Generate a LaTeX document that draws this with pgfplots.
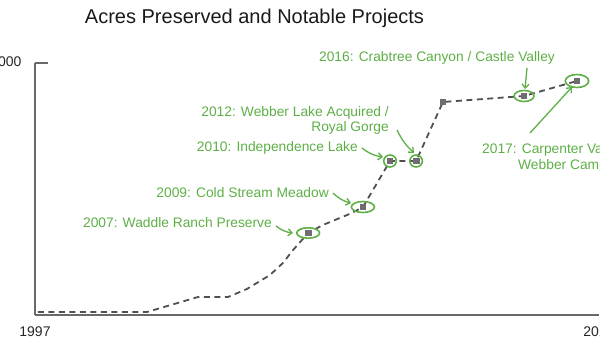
\documentclass[border=0pt]{standalone}
\usepackage{fontspec}
\setmainfont{Liberation Sans}
\usepackage{pgfplots}
\pgfplotsset{compat=1.18}
\usetikzlibrary{arrows.meta}
\definecolor{ann}{RGB}{93,175,70}
\definecolor{axg}{RGB}{105,105,105}
\definecolor{lg}{RGB}{80,80,80}
\definecolor{mk}{RGB}{110,110,110}

\pgfplotstableread{
x y
1997.11 476
2001.17 476
2003.07 2857
2004.19 2857
2004.89 4127
2005.75 6349
2006.23 8254
2006.61 10317
2007.17 13016
2007.72 14286
2008.80 16190
2009.21 17143
2010.22 24444
2011.19 24444
2012.19 33810
2015.21 34762
2017.18 37143
}\acres

\pgfplotstableread{
x y
2007.17 13016
2009.21 17143
2010.22 24444
2011.19 24444
2012.19 33810
2015.21 34762
2017.18 37143
}\marks

\begin{document}
\begin{tikzpicture}
\path[use as bounding box] (0pt,0pt) rectangle (600pt,352pt);
\clip (0pt,0pt) rectangle (600pt,352pt);
\begin{axis}[
  at={(35pt,37pt)}, anchor=south west,
  scale only axis, width=564pt, height=252pt,
  xmin=1997, xmax=2018, ymin=0, ymax=40000,
  axis x line*=bottom, axis y line*=left,
  axis line style={axg, line width=1.2pt, -},
  xtick={1997,2018}, xticklabels={1997,2018},
  ytick={40000},
  xtick style={draw=none},
  ytick style={axg, line width=1.2pt},
  tick align=inside, major tick length=13pt,
  ticklabel style={font=\fontsize{14}{14}\selectfont, text=black!85},
  yticklabel style={xshift=-10pt},
  xticklabel style={yshift=-8pt},
  /pgf/number format/assume math mode=true,
  /pgf/number format/1000 sep={,},
  scaled y ticks=false,
  clip=false,
]
\addplot[lg, line width=1.8pt, dash pattern=on 6pt off 4.5pt] table[x=x,y=y] {\acres};
\addplot[only marks, mark=square*, mark size=2.6pt, mark options={fill=mk, draw=mk}] table[x=x,y=y] {\marks};
\addplot[only marks, mark=o, mark size=5.2pt, mark options={xscale=2.2, draw=ann, line width=1.6pt}] coordinates {(2007.17,13016)};
\addplot[only marks, mark=o, mark size=5.5pt, mark options={xscale=2.1, draw=ann, line width=1.6pt}] coordinates {(2009.21,17143)};
\addplot[only marks, mark=o, mark size=6pt, mark options={xscale=1.05, draw=ann, line width=1.6pt}] coordinates {(2010.22,24444) (2011.19,24444)};
\addplot[only marks, mark=o, mark size=5.5pt, mark options={xscale=1.8, draw=ann, line width=1.6pt}] coordinates {(2015.21,34762)};
\addplot[only marks, mark=o, mark size=6.5pt, mark options={xscale=1.8, draw=ann, line width=1.6pt}] coordinates {(2017.18,37143)};
\end{axis}

\node[font=\fontsize{20}{22}\selectfont, text=black!90] at (254.5pt,334pt) {Acres Preserved and Notable Projects};

\tikzset{annt/.style={font=\fontsize{13.8}{15}\selectfont, text=ann, inner sep=0pt},
         arr/.style={draw=ann, line width=1.3pt, -{Straight Barb[length=4pt,width=7pt]}}}
\node[annt, anchor=east] at (272pt,129pt) {2007: Waddle Ranch Preserve};
\draw[arr] (276pt,126pt) to[bend right=15] (293pt,119pt);

\node[annt, anchor=east] at (329pt,159pt) {2009: Cold Stream Meadow};
\draw[arr] (333pt,159pt) to[bend right=15] (351pt,149pt);

\node[annt, anchor=east] at (358pt,204pt) {2010: Independence Lake};
\draw[arr] (362pt,204pt) to[bend right=15] (383pt,195pt);

\node[annt, anchor=east, align=right] at (389pt,232pt) {2012: Webber Lake Acquired /\\Royal Gorge};
\draw[arr] (397pt,222pt) to[bend right=10] (414pt,199pt);

\node[annt] at (437pt,294pt) {2016: Crabtree Canyon / Castle Valley};
\draw[arr] (527pt,284pt) -- (525pt,263pt);

\node[annt, anchor=west] at (482pt,202pt) {2017: Carpenter Valley /};
\node[annt, anchor=west] at (518pt,186pt) {Webber Camp};
\draw[arr] (530pt,219pt) -- (572pt,265pt);
\end{tikzpicture}
\end{document}
